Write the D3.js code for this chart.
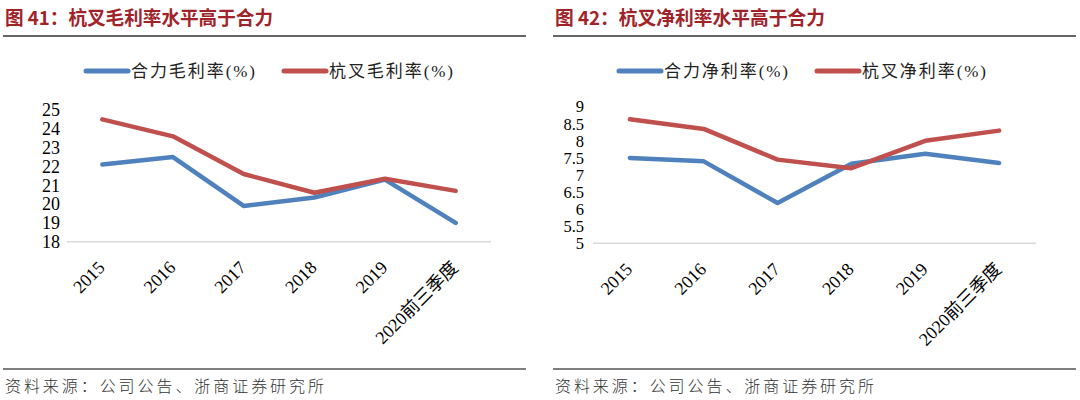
<!DOCTYPE html>
<html><head><meta charset="utf-8">
<script src="https://cdn.jsdelivr.net/npm/d3@7"></script>
<style>
html,body{margin:0;padding:0;background:#fff;}
svg{display:block;}
</style></head>
<body>
<script>
// ---- data ----
const categories = ["2015","2016","2017","2018","2019","2020前三季度"];
const grossHeli  = [22.1, 22.5, 19.9, 20.35, 21.3, 19.0];   // 合力毛利率(%)
const grossHangcha = [24.5, 23.6, 21.6, 20.6, 21.35, 20.7]; // 杭叉毛利率(%)
const netHeli    = [7.5, 7.4, 6.18, 7.33, 7.62, 7.35];      // 合力净利率(%)
const netHangcha = [8.63, 8.35, 7.45, 7.2, 8.0, 8.3];       // 杭叉净利率(%)
const grossTicks = [18,19,20,21,22,23,24,25];
const netTicks   = [5,5.5,6,6.5,7,7.5,8,8.5,9];
const titles = ["图 41：杭叉毛利率水平高于合力", "图 42：杭叉净利率水平高于合力"];
const legendGross = ["合力毛利率(%)", "杭叉毛利率(%)"];
const legendNet   = ["合力净利率(%)", "杭叉净利率(%)"];
const source = "资料来源：公司公告、浙商证券研究所";

const BLUE = "#4F81BD", RED = "#C0504D";

const svg = d3.select("body").append("svg").attr("width",1080).attr("height",400);
svg.append("rect").attr("width",1080).attr("height",400).attr("fill","#fff");

function drawPanel(cfg){
  const g = svg.append("g");
  // title
  g.append("text").attr("x",cfg.left+2).attr("y",25)
    .attr("font-family","'Noto Sans CJK SC'").attr("font-weight","bold")
    .attr("font-size",19).attr("fill","#A0232A")
    .attr("textLength",cfg.titleLen).attr("lengthAdjust","spacingAndGlyphs")
    .text(cfg.title);
  g.append("line").attr("x1",cfg.left).attr("x2",cfg.left+523).attr("y1",36).attr("y2",36)
    .attr("stroke","#333").attr("stroke-width",1.5);
  // footer
  g.append("line").attr("x1",cfg.left).attr("x2",cfg.left+523).attr("y1",369).attr("y2",369)
    .attr("stroke","#7f7f7f").attr("stroke-width",2);
  g.append("text").attr("x",cfg.left+2).attr("y",392)
    .attr("font-family","'Noto Sans CJK SC'").attr("font-weight",300)
    .attr("font-size",16).attr("fill","#333")
    .attr("textLength",319).attr("lengthAdjust","spacing")
    .text(source);

  const x = d3.scalePoint().domain(categories).range([cfg.x0,cfg.x1]).padding(0.5);
  const y = d3.scaleLinear().domain(cfg.domain).range([cfg.yBottom,cfg.yTop]);

  // axis baseline
  g.append("line").attr("x1",cfg.x0).attr("x2",cfg.x1).attr("y1",y(cfg.domain[0])).attr("y2",y(cfg.domain[0]))
    .attr("stroke","#d9d9d9").attr("stroke-width",1.5);

  // y tick labels
  const yAxis = d3.axisLeft(y).tickValues(cfg.ticks).tickSize(0).tickPadding(0).tickFormat(d3.format("~g"));
  const ya = g.append("g").attr("transform",`translate(${cfg.yLabelX},0)`).call(yAxis);
  ya.select(".domain").remove();
  ya.selectAll("text").attr("font-family","'Liberation Serif'").attr("font-size",cfg.yFont).attr("fill","#000");

  // x tick labels
  const xAxis = d3.axisBottom(x).tickSize(0).tickPadding(0);
  const xa = g.append("g").attr("transform",`translate(0,${cfg.yBottom})`).call(xAxis);
  xa.select(".domain").remove();
  xa.selectAll("text")
    .attr("font-family","'Liberation Serif','Noto Sans CJK SC'").attr("font-size",18).attr("fill","#000")
    .attr("text-anchor","end").attr("dy",0).attr("y",0)
    .attr("transform","translate(3,27) rotate(-45)");

  // lines
  const line = d3.line().x((d,i)=>x(categories[i])).y(d=>y(d));
  [[cfg.s1,BLUE],[cfg.s2,RED]].forEach(([s,c])=>{
    g.append("path").datum(s).attr("d",line).attr("fill","none")
      .attr("stroke",c).attr("stroke-width",4.5).attr("stroke-linejoin","round").attr("stroke-linecap","round");
  });

  // legend
  const items = [[cfg.legend[0],BLUE,cfg.lg[0]],[cfg.legend[1],RED,cfg.lg[1]]];
  items.forEach(([t,c,lx])=>{
    g.append("line").attr("x1",lx).attr("x2",lx+42).attr("y1",71).attr("y2",71)
      .attr("stroke",c).attr("stroke-width",5).attr("stroke-linecap","round");
    g.append("text").attr("x",lx+45).attr("y",77)
      .attr("font-family","'Liberation Serif','Noto Sans CJK SC'").attr("font-size",17).attr("fill","#222")
      .attr("textLength",124).attr("lengthAdjust","spacing")
      .text(t);
  });
}

drawPanel({left:3, title:titles[0], titleLen:268, x0:67, x1:491, yBottom:241.7, yTop:110,
  domain:[18,25], ticks:grossTicks, yLabelX:60, yFont:18, s1:grossHeli, s2:grossHangcha, legend:legendGross, lg:[86,284]});
drawPanel({left:553, title:titles[1], titleLen:270, x0:593, x1:1036, yBottom:243.3, yTop:106.7,
  domain:[5,9], ticks:netTicks, yLabelX:584, yFont:16.5, s1:netHeli, s2:netHangcha, legend:legendNet, lg:[619,817]});
</script>
</body></html>
